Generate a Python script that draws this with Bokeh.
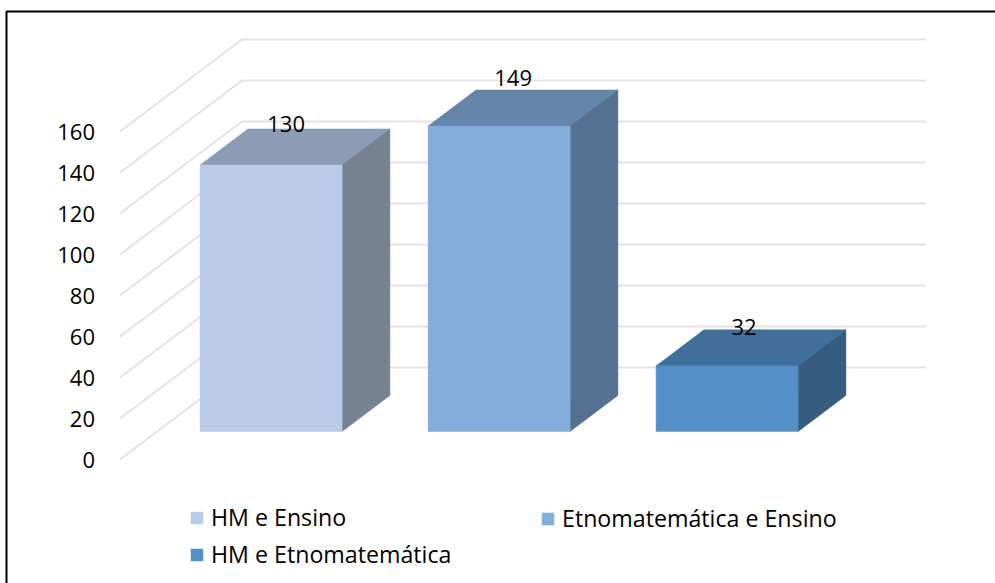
from bokeh.embed import file_html
from bokeh.resources import INLINE
from bokeh.plotting import figure
from bokeh.models import Range1d, Legend, LegendItem, LinearAxis, FixedTicker
from bokeh.core.properties import value

# Chart data
categories = ["HM e Ensino", "Etnomatemática e Ensino", "HM e Etnomatemática"]
counts = [130, 149, 32]
y_ticks = [0, 20, 40, 60, 80, 100, 120, 140, 160]

# Face colours per bar
front_colors = ["#B8CCE8", "#83AEDC", "#5590C8"]
top_colors = ["#8B9CB4", "#6585AB", "#416F9B"]
side_colors = ["#748292", "#56718F", "#365C82"]

# Pixel layout of the oblique projection
PX_PER_CAT = 228.0
PX_PER_UNIT = 2.05
ORIGIN_X = 119.5
ORIGIN_Y = 459.0
DEPTH_PX_X = 122.0
DEPTH_PX_Y = 92.0
BAR_NEAR = 0.304
BAR_FAR = 0.696
BAR_WIDTH = 142.0 / PX_PER_CAT
WIDTH, HEIGHT = 995, 583
BORDER_X, BORDER_Y = 6, 11
WALL_RIGHT_CATS = 3.0
FONT = "Open Sans"
FONT_SIZE = "22px"
LEGEND_FONT_SIZE = "23.2px"

label_dx_px = [15, 14, 17]
label_dy_px = [41, 48, 39]

depth_x = DEPTH_PX_X / PX_PER_CAT
depth_y = DEPTH_PX_Y / PX_PER_UNIT


def project(cat, val, depth):
    """Map (category position, value, depth fraction) onto plot coordinates."""
    return cat + depth * depth_x, val + depth * depth_y


def to_cat(px):
    return (px - ORIGIN_X) / PX_PER_CAT


def to_val(py):
    return (ORIGIN_Y - py) / PX_PER_UNIT


p = figure(
    width=WIDTH,
    height=HEIGHT,
    output_backend="svg",
    toolbar_location=None,
    x_range=Range1d(to_cat(0), to_cat(WIDTH)),
    y_range=Range1d(to_val(HEIGHT), to_val(0)),
    x_axis_location=None,
    y_axis_location=None,
    min_border_left=0,
    min_border_right=0,
    min_border_top=0,
    min_border_bottom=0,
)
p.grid.visible = False
p.outline_line_color = None
p.background_fill_color = "#FFFFFF"
p.border_fill_color = "#FFFFFF"

# Chart area border: only its top and left edges fall inside the page
p.line(
    [to_cat(BORDER_X), to_cat(BORDER_X), to_cat(WIDTH)],
    [to_val(HEIGHT), to_val(BORDER_Y), to_val(BORDER_Y)],
    line_color="#000000",
    line_width=2,
)

# Side and back walls of the 3D box, drawn as gridlines
for t in y_ticks:
    x0, y0 = project(0, t, 0)
    x1, y1 = project(0, t, 1)
    x2, y2 = project(WALL_RIGHT_CATS, t, 1)
    p.line([x0, x1, x2], [y0, y1, y2], line_color="#E3E3E3", line_width=2)

# Value axis sitting inside the frame, just left of the side wall
axis = LinearAxis(
    fixed_location=-19.0 / PX_PER_CAT,
    ticker=FixedTicker(ticks=y_ticks),
    axis_line_color=None,
    major_tick_line_color=None,
    minor_tick_line_color=None,
    major_label_text_font=FONT,
    major_label_text_font_size=FONT_SIZE,
    major_label_text_color="#000000",
    major_label_standoff=0,
)
p.add_layout(axis, "left")

legend_items = []
for i, (name, n) in enumerate(zip(categories, counts)):
    left = i + 0.5 - BAR_WIDTH / 2
    right = i + 0.5 + BAR_WIDTH / 2

    top_face = [project(left, n, BAR_NEAR), project(right, n, BAR_NEAR), project(right, n, BAR_FAR), project(left, n, BAR_FAR)]
    side_face = [project(right, 0, BAR_NEAR), project(right, 0, BAR_FAR), project(right, n, BAR_FAR), project(right, n, BAR_NEAR)]
    front_face = [project(left, 0, BAR_NEAR), project(right, 0, BAR_NEAR), project(right, n, BAR_NEAR), project(left, n, BAR_NEAR)]

    p.patch([a for a, _ in top_face], [b for _, b in top_face], fill_color=top_colors[i], line_color=top_colors[i], line_width=0.5)
    p.patch([a for a, _ in side_face], [b for _, b in side_face], fill_color=side_colors[i], line_color=side_colors[i], line_width=0.5)
    front = p.patch([a for a, _ in front_face], [b for _, b in front_face], fill_color=front_colors[i], line_color=front_colors[i], line_width=0.5)
    legend_items.append(LegendItem(label=value(name), renderers=[front]))

# Value labels above each bar
lx, ly = [], []
for i, n in enumerate(counts):
    cx, cy = project(i + 0.5, n, BAR_NEAR)
    lx.append(cx + label_dx_px[i] / PX_PER_CAT)
    ly.append(cy + label_dy_px[i] / PX_PER_UNIT)
p.text(lx, ly, text=[str(n) for n in counts], text_font=value(FONT), text_font_size=value(FONT_SIZE),
       text_color="#000000", text_align="center", text_baseline="middle")


def make_legend(items, location):
    return Legend(
        items=items,
        location=location,
        orientation="vertical",
        glyph_width=15,
        glyph_height=15,
        label_standoff=7,
        spacing=5,
        padding=0,
        margin=0,
        border_line_color=None,
        background_fill_alpha=0,
        label_text_font=FONT,
        label_text_font_size=LEGEND_FONT_SIZE,
        label_text_color="#000000",
    )


p.add_layout(make_legend([legend_items[0], legend_items[2]], (189, 13)), "center")
p.add_layout(make_legend([legend_items[1]], (540, 49)), "center")

open("out.html", "w").write(file_html(p, INLINE))
